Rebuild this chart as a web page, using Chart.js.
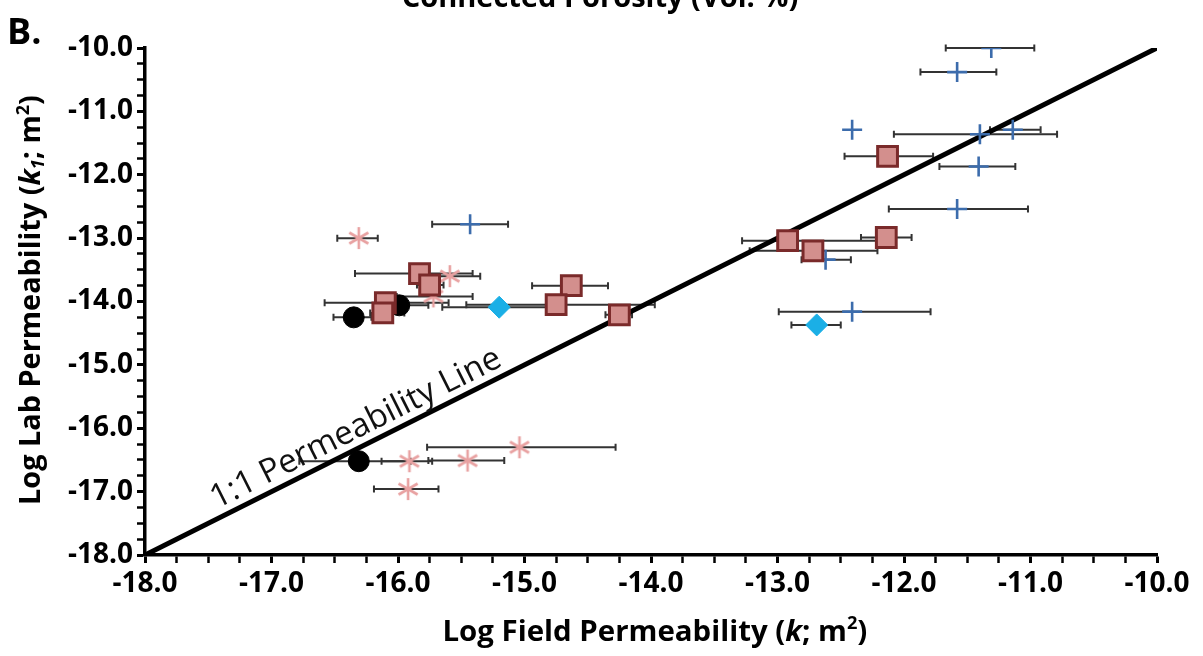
<!DOCTYPE html>
<html>
<head>
<meta charset="utf-8">
<script src="https://cdn.jsdelivr.net/npm/chart.js@4.4.0/dist/chart.umd.min.js"></script>
<style>
  body { margin: 0; background: #fff; }
  #wrap { width: 1203px; height: 656px; position: relative; }
</style>
</head>
<body>
<div id="wrap"><canvas id="chart"></canvas></div>
<script>
// axis ticks (labelled)
const majorTicks = [-18, -17, -16, -15, -14, -13, -12, -11, -10];

// blue crosses
const plusX  = [-11.31, -11.58, -12.41, -11.40, -11.14, -11.41, -11.58, -15.43, -12.62, -12.41];
const plusY  = [-10.00, -10.38, -11.29, -11.36, -11.29, -11.87, -12.54, -12.78, -13.34, -14.16];
const plusLo = [-11.67, -11.87, null,   -12.08, -11.32, -11.72, -12.12, -15.73, -12.81, -12.99];
const plusHi = [-10.97, -11.27, null,   -10.79, -10.92, -11.12, -11.02, -15.13, -12.42, -11.79];

// red squares
const sqX  = [-12.13, -12.92, -12.14, -12.72, -15.83, -15.75, -14.63, -14.75, -14.25, -16.10, -16.12];
const sqY  = [-11.71, -13.04, -12.99, -13.20, -13.56, -13.74, -13.75, -14.05, -14.21, -14.02, -14.18];
const sqLo = [-12.47, -13.28, -12.34, -13.22, -16.34, -15.85, -14.94, -15.46, -14.36, -16.58, -16.22];
const sqHi = [-11.77, -12.19, -11.94, -12.21, -15.41, -15.64, -14.34, -13.97, -14.15, -15.60, -15.95];

// pink asterisks
const astX  = [-16.31, -15.59, -15.72, -15.91, -15.45, -15.04, -15.92];
const astY  = [-13.00, -13.60, -13.92, -16.52, -16.51, -16.30, -16.96];
const astLo = [-16.48, -15.90, -16.01, -16.13, -15.76, -15.77, -16.19];
const astHi = [-16.16, -15.35, -15.41, -15.73, -15.16, -14.28, -15.68];

// black circles
const dotX  = [-16.35, -15.99, -16.31];
const dotY  = [-14.25, -14.06, -16.52];
const dotLo = [-16.51, -16.15, -16.78];
const dotHi = [-16.21, -15.76, -15.90];

// cyan diamonds
const diaX  = [-15.20, -12.69];
const diaY  = [-14.09, -14.37];
const diaLo = [-15.65, -12.89];
const diaHi = [-14.70, -12.50];

// 1:1 line ends
const lineX = [-18, -10];
const lineY = [-18, -10];

const FONT = '"Open Sans", Lato, sans-serif';

function pts(xs, ys, lo, hi) {
  return xs.map((x, i) => ({ x: x, y: ys[i], lo: lo ? lo[i] : null, hi: hi ? hi[i] : null }));
}

// asterisk marker (vertical + two diagonals)
function makeAsterisk(color) {
  const c = document.createElement('canvas');
  c.width = 26; c.height = 26;
  const g = c.getContext('2d');
  g.strokeStyle = color;
  g.lineWidth = 2.6;
  const r = 11;
  for (let a = 0; a < 3; a++) {
    const ang = Math.PI / 2 + a * Math.PI / 3;
    g.beginPath();
    g.moveTo(13 - r * Math.cos(ang), 13 - r * Math.sin(ang));
    g.lineTo(13 + r * Math.cos(ang), 13 + r * Math.sin(ang));
    g.stroke();
  }
  return c;
}

// horizontal error bars drawn under the markers
const errorBars = {
  id: 'errorBars',
  beforeDatasetsDraw(chart) {
    const ctx = chart.ctx;
    const xs = chart.scales.x, ys = chart.scales.y;
    ctx.save();
    ctx.strokeStyle = '#333';
    ctx.lineWidth = 2;
    chart.data.datasets.forEach(ds => {
      if (!ds.errors) return;
      ds.data.forEach(p => {
        if (p.lo == null) return;
        const y = ys.getPixelForValue(p.y);
        const x1 = xs.getPixelForValue(p.lo), x2 = xs.getPixelForValue(p.hi);
        ctx.beginPath();
        ctx.moveTo(x1, y); ctx.lineTo(x2, y);
        ctx.moveTo(x1, y - 3.5); ctx.lineTo(x1, y + 3.5);
        ctx.moveTo(x2, y - 3.5); ctx.lineTo(x2, y + 3.5);
        ctx.stroke();
      });
    });
    ctx.restore();
  }
};

// mixed-style text (italic k, sub/superscripts), fitted to a width
function drawRich(ctx, parts, fitW, cx, cy, rot) {
  ctx.save();
  ctx.translate(cx, cy);
  ctx.rotate(rot);
  ctx.textBaseline = 'alphabetic';
  ctx.textAlign = 'left';
  const fontOf = (p, s) => (p.italic ? 'italic ' : '') + 'bold ' + (p.sup || p.sub ? s * 0.62 : s) + 'px ' + FONT;
  const widthAt = s => parts.reduce((w, p) => { ctx.font = fontOf(p, s); return w + ctx.measureText(p.t).width; }, 0);
  const size = 30 * fitW / widthAt(30);
  let x = -fitW / 2;
  const base = size * 0.36;
  parts.forEach(p => {
    ctx.font = fontOf(p, size);
    let dy = 0;
    if (p.sup) dy = -size * 0.38;
    if (p.sub) dy = size * 0.14;
    ctx.fillText(p.t, x, base + dy);
    x += ctx.measureText(p.t).width;
  });
  ctx.restore();
}

const texts = {
  id: 'texts',
  afterDraw(chart) {
    const ctx = chart.ctx;
    const xs = chart.scales.x, ys = chart.scales.y;
    ctx.save();
    ctx.fillStyle = '#000';
    ctx.textAlign = 'center';
    ctx.textBaseline = 'alphabetic';
    ctx.font = 'bold 29px ' + FONT;
    ctx.fillText('Connected Porosity (Vol. %)', 600, 7);
    ctx.textAlign = 'left';
    ctx.font = 'bold 36px ' + FONT;
    ctx.fillText('B.', 7, 44);

    // label along the 1:1 line
    const ax = xs.getPixelForValue(lineX[0]), ay = ys.getPixelForValue(lineY[0]);
    const bx = xs.getPixelForValue(lineX[1]), by = ys.getPixelForValue(lineY[1]);
    const ang = Math.atan2(by - ay, bx - ax);
    const sx = xs.getPixelForValue(-17.40), sy = ys.getPixelForValue(-17.40);
    ctx.translate(sx, sy);
    ctx.rotate(ang);
    ctx.font = '33px ' + FONT;
    ctx.fillStyle = '#111';
    ctx.fillText('1:1 Permeability Line', 0, -9);
    ctx.restore();

    drawRich(ctx, [
      { t: 'Log Field Permeability (' }, { t: 'k', italic: true }, { t: '; m' }, { t: '2', sup: true }, { t: ')' }
    ], 425, 655, 630, 0);
    drawRich(ctx, [
      { t: 'Log Lab Permeability (' }, { t: 'k', italic: true }, { t: '1', italic: true, sub: true },
      { t: '; m' }, { t: '2', sup: true }, { t: ')' }
    ], 410, 30, 300, -Math.PI / 2);
  }
};

function axis(afterFit) {
  return {
    type: 'linear',
    min: -18, max: -10,
    afterFit: afterFit,
    border: { display: true, color: '#000', width: 3.5 },
    grid: {
      drawOnChartArea: false, drawTicks: true, tickLength: 8,
      tickColor: '#000',
      tickWidth: c => (majorTicks.includes(Math.round(c.tick.value * 100) / 100) ? 3 : 2.5)
    },
    ticks: {
      stepSize: 0.25, autoSkip: false, maxRotation: 0, minRotation: 0,
      color: '#000', padding: 4,
      font: { family: FONT, size: 28, weight: 'bold' },
      callback: v => (majorTicks.includes(Math.round(v * 100) / 100) ? v.toFixed(1) : '')
    }
  };
}

new Chart(document.getElementById('chart'), {
  type: 'scatter',
  data: {
    datasets: [
      {
        type: 'line', label: '1:1', order: 10,
        data: pts(lineX, lineY),
        borderColor: '#000', borderWidth: 5, pointRadius: 0, fill: false
      },
      {
        label: 'cross', errors: true, order: 5, data: pts(plusX, plusY, plusLo, plusHi),
        pointStyle: 'cross', pointRadius: 10, borderColor: '#3c6cac', borderWidth: 2.6
      },
      {
        label: 'square', errors: true, order: 2, data: pts(sqX, sqY, sqLo, sqHi),
        pointStyle: 'rect', pointRadius: 14, backgroundColor: '#d38f8d', borderColor: '#7a2a2a', borderWidth: 3
      },
      {
        label: 'asterisk', errors: true, order: 4, data: pts(astX, astY, astLo, astHi),
        pointStyle: makeAsterisk('#e8a1a1'), pointRadius: 11
      },
      {
        label: 'circle', errors: true, order: 3, data: pts(dotX, dotY, dotLo, dotHi),
        pointStyle: 'circle', pointRadius: 10.5, backgroundColor: '#000', borderColor: '#000', borderWidth: 1
      },
      {
        label: 'diamond', errors: true, order: 1, data: pts(diaX, diaY, diaLo, diaHi),
        pointStyle: 'rectRot', pointRadius: 11, backgroundColor: '#1bafe6', borderColor: '#1bafe6', borderWidth: 1
      }
    ]
  },
  options: {
    responsive: true,
    maintainAspectRatio: false,
    animation: false,
    layout: { padding: { top: 48, right: 46, left: 0, bottom: 0 } },
    plugins: { legend: { display: false }, tooltip: { enabled: false } },
    scales: {
      x: axis(s => { s.height = 101; }),
      y: axis(s => { s.width = 145; })
    }
  },
  plugins: [errorBars, texts]
});
</script>
</body>
</html>
